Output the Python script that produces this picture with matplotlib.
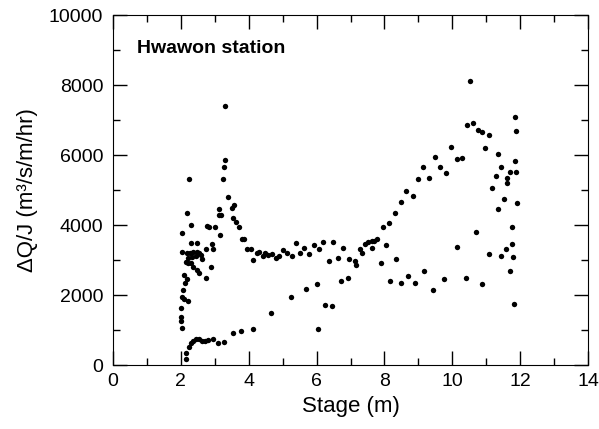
import matplotlib
matplotlib.use("Agg")
import matplotlib.pyplot as plt
from matplotlib.ticker import MultipleLocator

plt.rcParams['font.family'] = ['Liberation Sans', 'DejaVu Sans']

# stage (m) and dQ/J (m3/s/m/hr)
stage_low = [2.15, 2.16, 2.24, 2.29, 2.37, 2.45, 2.52, 2.61, 2.71, 2.81, 2.96, 3.10,
             3.27, 3.53, 3.78, 4.12, 4.66, 5.26, 5.69, 6.00, 6.25, 6.45, 6.03, 6.72, 6.93]
dqj_low = [350, 170, 523, 620, 694, 734, 734, 694, 694, 714, 734, 637,
           666, 906, 971, 1029, 1477, 1934, 2181, 2305, 1714, 1676, 1038, 2410, 2486]

stage_left = [3.30, 3.31, 3.27, 3.25, 2.24, 2.17, 3.40, 3.57, 3.50, 3.12, 3.11, 3.18,
              2.29, 2.03, 2.78, 2.84, 3.02, 3.16, 3.55, 3.62, 3.72, 3.80, 3.86, 2.91,
              2.94, 2.74, 3.94, 4.06, 4.13, 2.30, 2.48,
              2.04, 2.17, 2.27, 2.37, 2.47, 2.53, 2.59, 2.44, 2.32, 2.22, 2.14, 2.20,
              2.30, 2.37, 2.47, 2.53, 2.63, 2.73, 2.89,
              2.10, 2.17, 2.12, 2.07, 2.04, 2.10, 2.20, 2.01, 2.01, 2.00, 2.04]
dqj_left = [7400, 5860, 5666, 5314, 5305, 4333, 4810, 4580, 4476, 4448, 4286, 4286,
            4000, 3762, 3971, 3952, 3943, 3714, 4190, 4095, 3952, 3590, 3590, 3457,
            3305, 3305, 3305, 3305, 3000, 3476, 3476,
            3238, 3209, 3190, 3219, 3238, 3190, 3143, 3114, 3076, 3048, 2952, 2905,
            2924, 2810, 2714, 2638, 3019, 2476, 2810,
            2571, 2448, 2352, 2143, 1952, 1876, 1838, 1620, 1380, 1250, 1070]

stage_mid = [4.24, 4.31, 4.41, 4.48, 4.58, 4.68, 4.80, 4.90, 5.02, 5.14, 5.27, 5.39,
             5.51, 5.64, 5.79, 5.92, 6.06, 6.20, 6.36, 6.49, 6.64, 6.79, 6.96, 7.14,
             7.15, 7.28, 7.33, 7.43, 7.52, 7.62, 7.69, 7.79, 7.62]
dqj_mid = [3190, 3238, 3114, 3190, 3143, 3171, 3048, 3114, 3286, 3190, 3114, 3495,
           3209, 3333, 3162, 3438, 3305, 3524, 2980, 3514, 3048, 3333, 3019, 2980,
           2857, 3320, 3190, 3460, 3530, 3550, 3550, 3590, 3350]

stage_right = [7.89, 7.95, 8.05, 8.14, 8.31, 8.34, 8.48, 8.63, 8.83, 8.99, 9.15, 9.32,
               9.48, 9.64, 9.81, 9.97, 10.13, 10.29, 10.42,
               8.16, 8.50, 8.70, 8.91, 9.18, 9.42, 9.76, 10.13, 10.40,
               10.51, 10.62, 10.75, 10.87, 11.07, 11.86, 11.89, 10.96, 11.36, 11.43,
               11.85, 11.70, 11.87, 11.29, 11.62, 11.60, 11.18, 11.51, 11.90, 11.34,
               10.71, 11.75, 11.75, 11.57, 11.09, 11.44, 11.79, 11.71, 10.88, 11.83]
dqj_right = [2905, 3952, 3419, 4067, 4333, 3029, 4648, 4962, 4829, 5314, 5666, 5352,
             5943, 5648, 5476, 6238, 5895, 5914, 6857,
             2410, 2352, 2552, 2343, 2676, 2143, 2457, 3362, 2495,
             8114, 6905, 6714, 6657, 6581, 7095, 6686, 6210, 6019, 5648,
             5819, 5514, 5505, 5400, 5333, 5190, 5047, 4752, 4629, 4448,
             3800, 3933, 3467, 3314, 3181, 3114, 3076, 2686, 2305, 1734]

stage = stage_low + stage_left + stage_mid + stage_right
dqj = dqj_low + dqj_left + dqj_mid + dqj_right

fig = plt.figure(figsize=(5.99, 4.29), dpi=100)
ax = fig.add_axes([0.1887, 0.149, 0.7929, 0.816])

ax.scatter(stage, dqj, s=15, color='black', linewidths=0)

ax.set_xlim(0, 14)
ax.set_ylim(0, 10000)
ax.xaxis.set_major_locator(MultipleLocator(2))
ax.xaxis.set_minor_locator(MultipleLocator(1))
ax.yaxis.set_major_locator(MultipleLocator(2000))
ax.yaxis.set_minor_locator(MultipleLocator(1000))
ax.tick_params(which='both', direction='in', top=True, right=True, labelsize=14)
ax.tick_params(which='major', length=10, width=1)
ax.tick_params(which='minor', length=5, width=1)
ax.tick_params(axis='x', pad=6)
ax.tick_params(axis='y', pad=7)

ax.set_xlabel('Stage (m)', fontsize=16, labelpad=4)
ax.set_ylabel('ΔQ/J (m³/s/m/hr)', fontsize=16, labelpad=8)
ax.text(0.05, 0.905, 'Hwawon station', transform=ax.transAxes,
        fontsize=14, fontweight='bold', va='center')

fig.savefig('out.png', dpi=100)
